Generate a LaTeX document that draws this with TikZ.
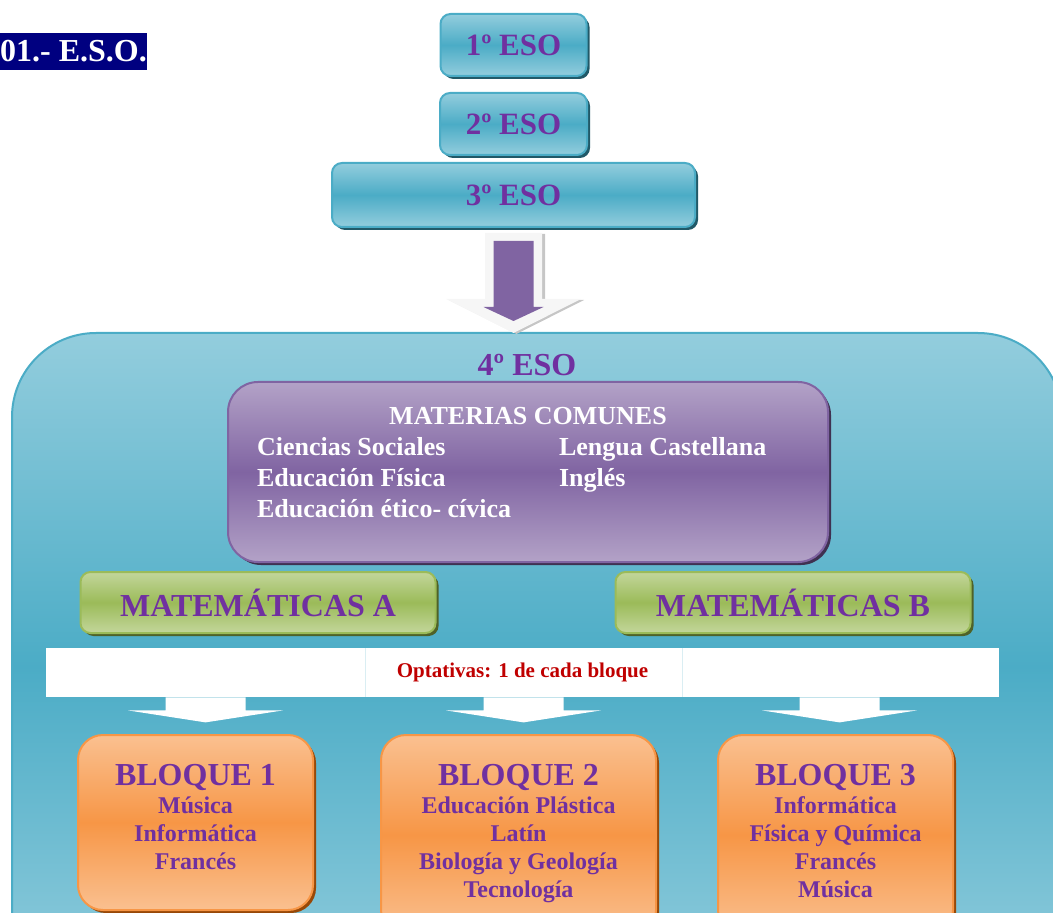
\documentclass[tikz,border=0pt]{standalone}
\usepackage{fontspec}
\setmainfont{Liberation Serif}
\usetikzlibrary{calc,shadows}
\definecolor{eduTeal}{HTML}{4BACC6}
\definecolor{eduTealL}{HTML}{93CDDD}
\definecolor{eduTealD}{HTML}{215968}
\definecolor{eduPurple}{HTML}{7030A0}
\definecolor{eduLila}{HTML}{8064A2}
\definecolor{eduLilaL}{HTML}{B3A2C7}
\definecolor{eduLilaD}{HTML}{3F3151}
\definecolor{eduGreen}{HTML}{9BBB59}
\definecolor{eduGreenL}{HTML}{C3D69B}
\definecolor{eduGreenD}{HTML}{4F6228}
\definecolor{eduOrange}{HTML}{F79646}
\definecolor{eduOrangeL}{HTML}{FAC090}
\definecolor{eduOrangeD}{HTML}{984807}
\definecolor{eduNavy}{HTML}{000080}
\definecolor{eduRed}{HTML}{C00000}
\definecolor{eduGrid}{HTML}{DAEEF3}

\begin{document}
\begin{tikzpicture}[x=0.5pt,y=-0.5pt,
      caja/.style={draw,line width=1pt,align=center,inner sep=0pt},
      sombra/.style={drop shadow={shadow xshift=1.5pt,shadow yshift=-1.5pt,
        fill=#1,opacity=1}},
      curso/.style={caja,rounded corners=5pt,draw=eduTeal,top color=eduTealL,
        bottom color=eduTealL,middle color=eduTeal,sombra=eduTealD,text=eduPurple,
        font=\bfseries\fontsize{15.5}{18}\selectfont,minimum height=31pt},
      comunes/.style={caja,rounded corners=15pt,draw=eduLila,top color=eduLilaL,
        bottom color=eduLilaL,middle color=eduLila,sombra=eduLilaD,text=white,
        font=\bfseries\fontsize{13}{15.5}\selectfont},
      mates/.style={caja,rounded corners=5pt,draw=eduGreen,top color=eduGreenL,
        bottom color=eduGreenL,middle color=eduGreen,sombra=eduGreenD,
        text=eduPurple,font=\bfseries\fontsize{16}{18}\selectfont,
        minimum width=177.5pt,minimum height=30.5pt},
      bloque/.style={caja,rounded corners=12.5pt,draw=eduOrange,
        top color=eduOrangeL,bottom color=eduOrangeL,middle color=eduOrange,
        sombra=eduOrangeD,text=eduPurple,font=\bfseries\fontsize{12}{14}\selectfont,
        anchor=north}]
      \clip(0,0)rectangle(1053,913);
      \node[fill=eduNavy,text=white,inner sep=0pt,minimum width=73.5pt,
        minimum height=18.5pt,font=\bfseries\fontsize{16}{18}\selectfont]
        (titulo) at (73.5,51.5){01.- E.S.O.};
      % cursos 1-3
      \node[curso,minimum width=73pt](e1) at (513.5,45){1º ESO};
      \node[curso,minimum width=73.5pt](e2) at (513.5,124){2º ESO};
      \node[curso,minimum width=181.5pt,minimum height=32pt](e3) at (513.5,195){3º ESO};
      % 4 ESO
      \draw[draw=eduTeal,line width=1pt,top color=eduTealL,bottom color=eduTealL,
        middle color=eduTeal,rounded corners=42pt](12,333)rectangle(1062,1000);
      \coordinate (flecha) at ($(e3.south)+(0,5)$);
      \fill[gray!45]($(flecha)+(-25.5,1)$)--++(57,0)--++(0,66)--++(39,0)
        --++(-67.5,34)--++(-67.5,-34)--++(39,0)--cycle;
      \fill[gray!7]($(flecha)+(-28.5,0)$)--++(57,0)--++(0,66)--++(39,0)
        --++(-67.5,34)--++(-67.5,-34)--++(39,0)--cycle;
      \fill[eduLila]($(flecha)+(-20,8)$)--++(40,0)--++(0,66)--++(10,0)
        --++(-30,14)--++(-30,-14)--++(10,0)--cycle;
      \node[text=eduPurple,font=\bfseries\fontsize{16}{18}\selectfont]
        (cuarto) at (527,365){4º ESO};
      \node[comunes,minimum width=300pt,minimum height=90pt](com) at (528,472){%
        \begin{tabular}{@{}p{151pt}@{}p{120pt}@{}}
          \multicolumn{2}{c}{MATERIAS COMUNES}\\
          Ciencias Sociales&Lengua Castellana\\
          Educación Física&Inglés\\
          Educación ético- cívica&\\[7pt]
        \end{tabular}};
      \node[mates](matA) at (258,602.5){MATEMÁTICAS A};
      \node[mates](matB) at (793,602.5){MATEMÁTICAS B};
      % optativas
      \node[fill=white,inner sep=0pt,minimum width=476.5pt,minimum height=24.5pt,
        text=eduRed,font=\bfseries\fontsize{10.5}{12}\selectfont]
        (banda) at (522.5,672.5){Optativas: 1 de cada bloque};
      \draw[eduGrid,very thin](365,648)--(365,697)(682,648)--(682,697);
      \node[bloque,minimum width=117.5pt,minimum height=87.5pt,text depth=6pt]
        (b1) at (195.5,734){{\fontsize{16}{18}\selectfont BLOQUE 1}\\Música\\
        Informática\\Francés};
      \node[bloque,minimum width=137.5pt,minimum height=100pt,text depth=4pt]
        (b2) at (518.5,734){{\fontsize{16}{18}\selectfont BLOQUE 2}\\
        Educación Plástica\\Latín\\Biología y Geología\\Tecnología};
      \node[bloque,minimum width=117.5pt,minimum height=100pt,text depth=4pt]
        (b3) at (835.5,734){{\fontsize{16}{18}\selectfont BLOQUE 3}\\
        Informática\\Física y Química\\Francés\\Música};
      \foreach \b/\dx in {b1/10,b2/5,b3/4}
        \fill[white]($(banda.south -| \b.north)+(\dx-40,0)$)--++(0,13)--++(-37.5,0)
          --++(77.5,12)--++(77.5,-12)--++(-37.5,0)--++(0,-13)--cycle;
   \end{tikzpicture}
\end{document}
